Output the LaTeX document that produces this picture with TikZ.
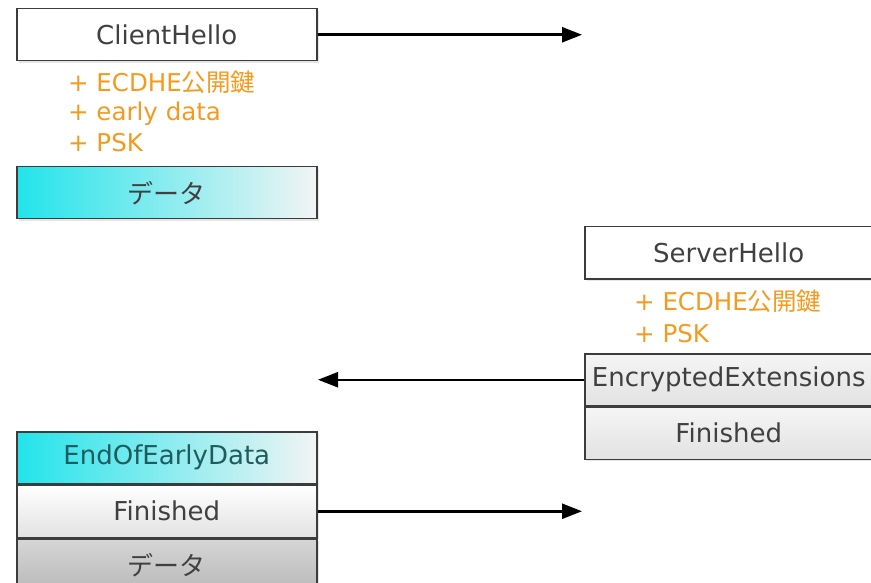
\documentclass[tikz,border=0pt]{standalone}
\usepackage{fontspec}
\setmainfont{DejaVu Sans}
\newfontfamily\jpfont{Noto Sans CJK JP}
\usepackage{xcolor,tikz}
\usetikzlibrary{positioning,arrows.meta,shadows}
\definecolor{hsBoxLine}{HTML}{3C3C3C}
\definecolor{hsText}{HTML}{404040}
\definecolor{hsTealText}{HTML}{1F5C5F}
\definecolor{hsCyan}{HTML}{22E4EA}
\definecolor{hsPale}{HTML}{F2F4F4}
\definecolor{hsOrange}{HTML}{F49A1E}
\definecolor{hsGreyTop}{HTML}{F5F5F5}
\definecolor{hsGreyBot}{HTML}{E2E2E2}
\definecolor{hsDarkTop}{HTML}{D6D6D6}
\definecolor{hsDarkBot}{HTML}{B9B9B9}

\begin{document}
\begin{tikzpicture}[x=1pt, y=-1pt,
  msgbox/.style={draw=hsBoxLine, line width=1.5pt, fill=white,
    minimum height=52pt, inner sep=0pt, text=hsText,
    font=\fontsize{26}{30}\selectfont,
    drop shadow={shadow xshift=2pt, shadow yshift=-2pt, opacity=0.2}},
  clientbox/.style={msgbox, minimum width=300pt},
  serverbox/.style={msgbox, minimum width=288pt},
  ext/.style={anchor=base west, inner sep=0pt, text=hsOrange,
    font=\fontsize{24.5}{28}\selectfont},
  msg/.style={draw=black, line width=2.5pt,
    -{Triangle[length=20pt, width=15pt]}}]

% --- CANVAS ---
\clip (0,0) rectangle (871,583);

% --- CLIENT, FIRST FLIGHT ---
\node[clientbox, anchor=north west] (chello) at (16,8) {ClientHello};
\node[ext] (checdhe) at (68,92) {+ ECDHE{\jpfont 公開鍵}};
\node[ext] (chearly) at (68,121) {+ early data};
\node[ext] (chpsk) at (68,152) {+ PSK};
\node[clientbox, anchor=north west, left color=hsCyan, right color=hsPale]
  (cdata) at (16,166) {\jpfont データ};

% --- SERVER FLIGHT ---
\node[serverbox, anchor=north west] (shello) at (584,226) {ServerHello};
\node[ext] (shecdhe) at (634,310) {+ ECDHE{\jpfont 公開鍵}};
\node[ext] (shpsk) at (634,342) {+ PSK};
\node[serverbox, anchor=north west, top color=hsGreyTop, bottom color=hsGreyBot]
  (sencext) at (584,353) {EncryptedExtensions};
\node[serverbox, below=0pt of sencext, top color=hsGreyTop, bottom color=hsGreyBot]
  (sfin) {Finished};

% --- CLIENT, SECOND FLIGHT ---
\node[clientbox, anchor=north west, left color=hsCyan, right color=hsPale,
  text=hsTealText] (ceoed) at (16,431) {EndOfEarlyData};
\node[clientbox, below=0pt of ceoed, top color=white, bottom color=hsGreyBot]
  (cfin) {Finished};
\node[clientbox, below=0pt of cfin, top color=hsDarkTop, bottom color=hsDarkBot]
  (cdata2) {\jpfont データ};

% --- ARROWS ---
\coordinate (tohello) at (582,0 |- chello.east);
\coordinate (toclient) at (318,0 |- sencext.west);
\coordinate (tofin) at (582,0 |- cfin.east);
\draw[msg] (chello.east) -- (tohello);
\draw[msg] (sencext.west) -- (toclient);
\draw[msg] (cfin.east) -- (tofin);

\end{tikzpicture}
\end{document}
